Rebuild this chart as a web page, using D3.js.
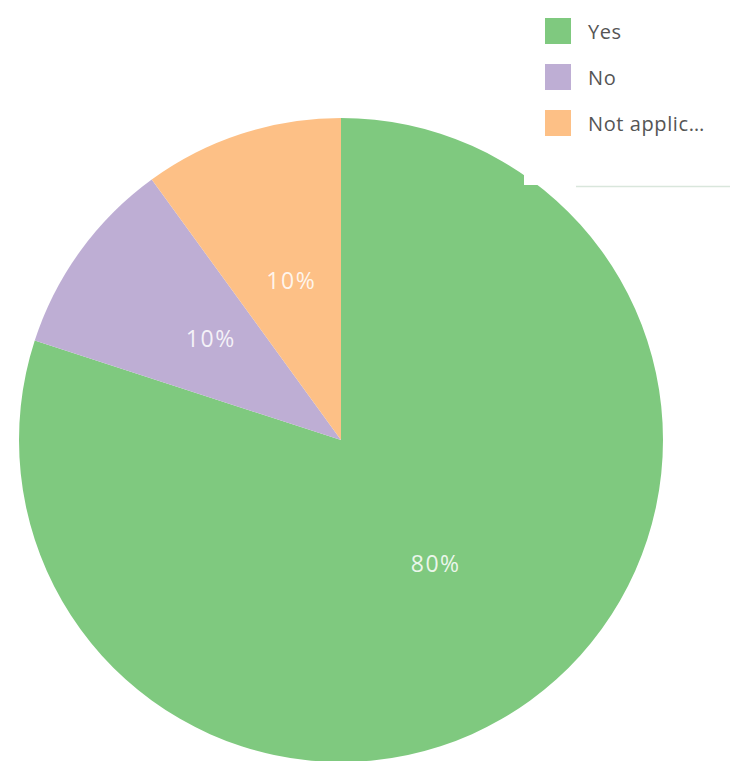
<!DOCTYPE html>
<html>
<head>
<meta charset="utf-8">
<script src="https://cdn.jsdelivr.net/npm/d3@7"></script>
<style>
  html, body { margin: 0; padding: 0; background: #fff; }
  svg { display: block; }
</style>
</head>
<body>
<svg id="chart" width="730" height="761"></svg>
<script>
// Survey answers and their share
const categories = ['Yes', 'No', 'Not applicable'];
const legendLabels = ['Yes', 'No', 'Not applic…'];
const values = [80, 10, 10];
const colors = ['#7fc97f', '#beaed4', '#fdc086'];

const svg = d3.select('#chart');
const cx = 341, cy = 440, radius = 322;

const pie = d3.pie().sort(null).value(d => d.value);
const arc = d3.arc().innerRadius(0).outerRadius(radius);
const labelArc = d3.arc().innerRadius(radius / 2).outerRadius(radius / 2);

const data = categories.map((c, i) => ({ name: c, value: values[i], color: colors[i] }));
const total = d3.sum(values);

const g = svg.append('g').attr('transform', `translate(${cx},${cy})`);

const slices = g.selectAll('.slice')
  .data(pie(data))
  .enter()
  .append('g')
  .attr('class', 'slice');

slices.append('path')
  .attr('d', arc)
  .attr('fill', d => d.data.color);

slices.append('text')
  .attr('transform', d => `translate(${labelArc.centroid(d)})`)
  .attr('text-anchor', 'middle')
  .attr('dy', '0.08em')
  .style('font-family', '"Open Sans", sans-serif')
  .style('font-size', '23px')
  .style('letter-spacing', '1.5px')
  .style('fill', '#fff')
  .style('fill-opacity', 0.85)
  .text(d => Math.round(d.data.value / total * 100) + '%');

// Legend box sits over the pie in the top right corner
const legend = svg.append('g').attr('transform', 'translate(524,0)');
legend.append('rect')
  .attr('width', 206)
  .attr('height', 185)
  .attr('fill', '#fff');
legend.append('line')
  .attr('x1', 52).attr('x2', 206)
  .attr('y1', 186.5).attr('y2', 186.5)
  .attr('stroke', '#d9e6dc')
  .attr('stroke-width', 1.5);

const items = legend.selectAll('.item')
  .data(data)
  .enter()
  .append('g')
  .attr('class', 'item')
  .attr('transform', (d, i) => `translate(21,${18 + i * 46})`);

items.append('rect')
  .attr('width', 26)
  .attr('height', 26)
  .attr('fill', d => d.color);

items.append('text')
  .attr('x', 43)
  .attr('y', 14)
  .attr('dy', '0.35em')
  .style('font-family', '"Open Sans", sans-serif')
  .style('font-size', '20px')
  .style('letter-spacing', '0.6px')
  .style('fill', '#555')
  .text((d, i) => legendLabels[i]);
</script>
</body>
</html>
